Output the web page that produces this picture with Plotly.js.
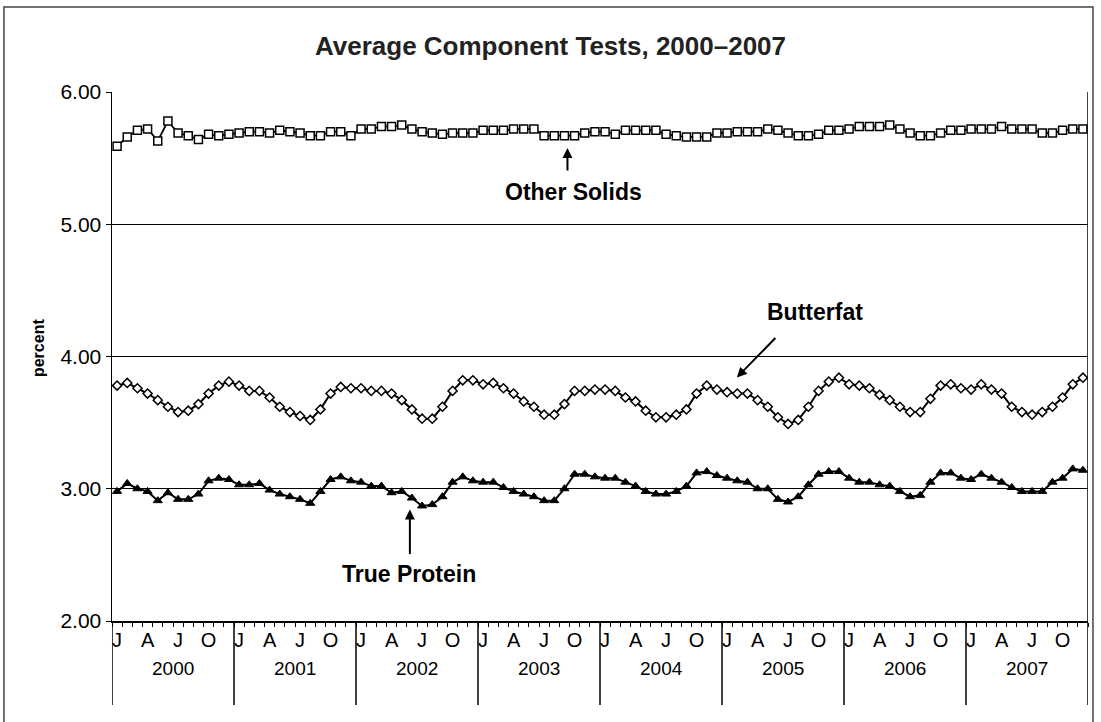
<!DOCTYPE html>
<html>
<head>
<meta charset="utf-8">
<script src="https://cdn.plot.ly/plotly-3.0.1.min.js"></script>
<style>html,body{margin:0;padding:0;background:#fff;}#chart{width:1101px;height:722px;}</style>
</head>
<body>
<div id="chart"></div>
<script>
// Years and month letters
const years = ['2000','2001','2002','2003','2004','2005','2006','2007'];
const monthLetters = ['J','A','J','O'];

// Monthly values, Jan 2000 .. Dec 2007 (percent)
const otherSolids = [
  5.59,5.66,5.71,5.72,5.63,5.78,5.69,5.67,5.64,5.68,5.67,5.68,
  5.69,5.70,5.70,5.69,5.71,5.70,5.69,5.67,5.67,5.70,5.70,5.67,
  5.72,5.72,5.74,5.74,5.75,5.72,5.70,5.69,5.68,5.69,5.69,5.69,
  5.71,5.71,5.71,5.72,5.72,5.72,5.67,5.67,5.67,5.67,5.69,5.70,
  5.70,5.68,5.71,5.71,5.71,5.71,5.68,5.67,5.66,5.66,5.66,5.69,
  5.69,5.70,5.70,5.70,5.72,5.71,5.69,5.67,5.67,5.68,5.71,5.71,
  5.72,5.74,5.74,5.74,5.75,5.72,5.69,5.67,5.67,5.69,5.71,5.71,
  5.72,5.72,5.72,5.74,5.72,5.72,5.72,5.69,5.69,5.71,5.72,5.72
];
const butterfat = [
  3.78,3.80,3.76,3.72,3.67,3.62,3.58,3.59,3.64,3.72,3.78,3.81,
  3.78,3.74,3.74,3.69,3.62,3.58,3.55,3.52,3.60,3.72,3.77,3.76,
  3.76,3.74,3.74,3.72,3.67,3.60,3.53,3.53,3.62,3.74,3.82,3.82,
  3.79,3.80,3.76,3.72,3.66,3.62,3.56,3.56,3.64,3.74,3.74,3.75,
  3.75,3.74,3.69,3.66,3.59,3.54,3.54,3.56,3.60,3.72,3.78,3.75,
  3.73,3.72,3.72,3.67,3.62,3.54,3.49,3.52,3.62,3.74,3.81,3.84,
  3.79,3.78,3.76,3.71,3.67,3.62,3.58,3.58,3.68,3.78,3.79,3.76,
  3.75,3.79,3.75,3.72,3.62,3.58,3.56,3.58,3.62,3.69,3.79,3.84
];
const trueProtein = [
  2.98,3.04,3.00,2.98,2.91,2.97,2.92,2.92,2.96,3.06,3.08,3.07,
  3.03,3.03,3.04,2.99,2.96,2.94,2.92,2.89,2.98,3.07,3.09,3.06,
  3.05,3.02,3.02,2.97,2.98,2.93,2.87,2.88,2.94,3.05,3.09,3.06,
  3.05,3.05,3.01,2.98,2.96,2.94,2.91,2.91,3.00,3.11,3.11,3.09,
  3.08,3.08,3.05,3.02,2.98,2.96,2.96,2.98,3.02,3.12,3.13,3.10,
  3.08,3.06,3.05,3.00,3.00,2.92,2.90,2.94,3.03,3.11,3.13,3.13,
  3.08,3.05,3.05,3.03,3.02,2.98,2.94,2.95,3.05,3.12,3.12,3.08,
  3.07,3.11,3.08,3.05,3.01,2.98,2.98,2.98,3.05,3.08,3.15,3.14
];

const n = otherSolids.length;
const xIdx = Array.from({length: n}, (_, i) => i);

const tickVals = [], tickText = [];
years.forEach((y, k) => { monthLetters.forEach((m, j) => { tickVals.push(k*12 + j*3); tickText.push(m); }); });

const FONT = 'Liberation Sans, Arial, sans-serif';
const lineStyle = {color: '#000', width: 2};
const traces = [
  {x: xIdx, y: otherSolids, mode: 'lines+markers', name: 'Other Solids',
   line: {color: '#000', width: 1.8},
   marker: {symbol: 'square', size: 8, color: '#fff', line: {color: '#000', width: 1.5}}},
  {x: xIdx, y: butterfat, mode: 'lines+markers', name: 'Butterfat',
   line: lineStyle,
   marker: {symbol: 'diamond', size: 7, color: '#fff', line: {color: '#000', width: 1.5}}},
  {x: xIdx, y: trueProtein, mode: 'lines+markers', name: 'True Protein',
   line: lineStyle,
   marker: {symbol: 'triangle-up', size: 8, color: '#000', line: {color: '#000', width: 1}}}
];

const shapes = [];
for (let k = 0; k <= years.length; k++) {
  shapes.push({type: 'line', xref: 'x', yref: 'paper', x0: k*12 - 0.5, x1: k*12 - 0.5,
    y0: k === years.length ? 1 : 0, y1: -0.159, line: {color: '#000', width: 1.5}});
}
// outer frame
shapes.push({type: 'rect', xref: 'paper', yref: 'paper', x0: -0.1107, x1: 1.0051, y0: -0.3, y1: 1.1607,
  line: {color: '#444', width: 1.5}, fillcolor: 'rgba(0,0,0,0)', layer: 'below'});

const annotations = years.map((y, k) => ({
  xref: 'x', yref: 'paper', x: k*12 + 5.5, y: -0.0907, text: y, showarrow: false,
  yanchor: 'middle', font: {family: FONT, size: 19, color: '#000'}
}));
const labFont = {family: FONT, size: 23, color: '#000'};
annotations.push(
  {xref: 'paper', yref: 'paper', x: -0.0758, y: 0.516, xanchor: 'center', yanchor: 'middle',
   text: '<b>percent</b>', textangle: -90, showarrow: false,
   font: {family: FONT, size: 16, color: '#000'}},
  {xref: 'x', yref: 'y', x: 44.9, y: 5.244, text: '<b>Other Solids</b>', showarrow: false, font: labFont},
  {xref: 'x', yref: 'y', x: 44.3, y: 5.577, text: '', showarrow: true, arrowhead: 2, arrowsize: 1, arrowwidth: 2, arrowcolor: '#000', ax: 0, ay: 24},
  {xref: 'x', yref: 'y', x: 68.6, y: 4.333, text: '<b>Butterfat</b>', showarrow: false, font: labFont},
  {xref: 'x', yref: 'y', x: 60.96, y: 3.841, text: '', showarrow: true, arrowhead: 2, arrowsize: 1, arrowwidth: 2, arrowcolor: '#000', ax: 40, ay: -41},
  {xref: 'x', yref: 'y', x: 28.7, y: 2.357, text: '<b>True Protein</b>', showarrow: false, font: labFont},
  {xref: 'x', yref: 'y', x: 28.8, y: 2.843, text: '', showarrow: true, arrowhead: 2, arrowsize: 1, arrowwidth: 2, arrowcolor: '#000', ax: 0, ay: 46}
);

const layout = {
  width: 1101, height: 722,
  margin: {l: 112, r: 13, t: 92, b: 101},
  paper_bgcolor: '#fff', plot_bgcolor: '#fff',
  showlegend: false,
  font: {family: FONT, color: '#000'},
  title: {text: '<b>Average Component Tests, 2000\u20132007</b>', x: 0.5, xref: 'container', y: 0.936, yanchor: 'middle',
    font: {family: FONT, size: 26, color: '#222'}},
  xaxis: {range: [-0.5, 95.5], tickmode: 'array', tickvals: tickVals, ticktext: tickText,
    ticks: '', showgrid: false, zeroline: false, showline: true, linecolor: '#000', linewidth: 1.5,
    tickfont: {size: 20, color: '#000'},
    minor: {tickmode: 'linear', tick0: -0.5, dtick: 1, ticks: 'outside', ticklen: 4, tickcolor: '#000', tickwidth: 1, showgrid: false},
    fixedrange: true},
  yaxis: {range: [2, 6], tickvals: [2,3,4,5,6], tickformat: '.2f', ticks: 'outside', ticklen: 5, tickcolor: '#000',
    showgrid: true, gridcolor: '#000', gridwidth: 1, zeroline: false, showline: true, linecolor: '#000', linewidth: 1.5,
    tickfont: {size: 21, color: '#000'},
    fixedrange: true},
  shapes: shapes,
  annotations: annotations
};

Plotly.newPlot('chart', traces, layout, {displayModeBar: false, staticPlot: true});
</script>
</body>
</html>
